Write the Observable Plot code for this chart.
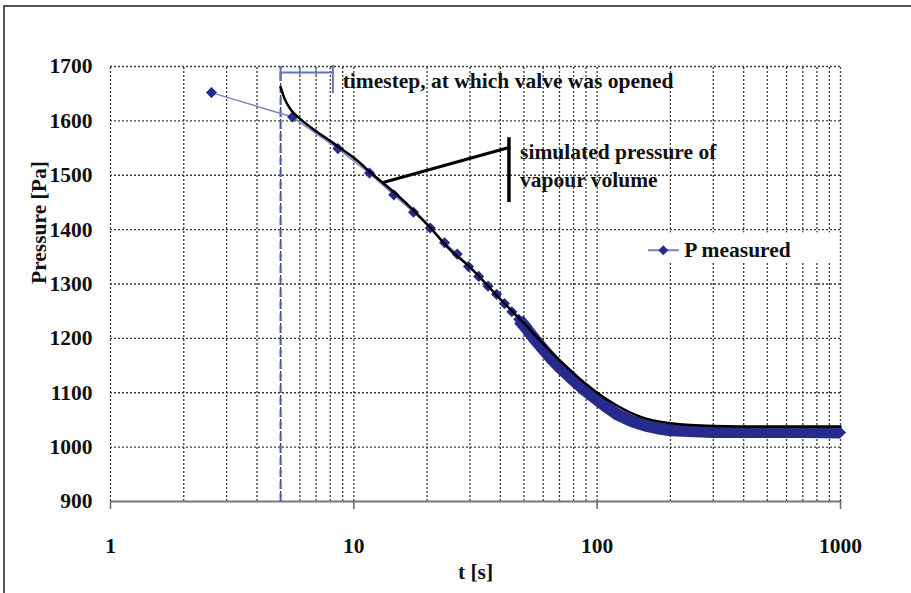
<!DOCTYPE html>
<html>
<head>
<meta charset="utf-8">
<script src="https://cdn.jsdelivr.net/npm/d3@7"></script>
<script src="https://cdn.jsdelivr.net/npm/@observablehq/plot@0.6"></script>
<style>
  html, body { margin: 0; padding: 0; background: #fff; width: 911px; height: 593px; overflow: hidden; }
  #wrap { position: relative; width: 911px; height: 593px; }
  #frame { position: absolute; left: 3px; top: 5px; width: 920px; height: 600px;
           border-top: 2px solid #555; border-left: 2px solid #555; pointer-events: none; }
</style>
</head>
<body>
<div id="wrap"><div id="frame"></div></div>
<script>
// ---- data ----
const xTicks = [1, 10, 100, 1000];
const yTicks = [900, 1000, 1100, 1200, 1300, 1400, 1500, 1600, 1700];
const xGrid = [1,2,3,4,5,6,7,8,9,10,20,30,40,50,60,70,80,90,100,200,300,400,500,600,700,800,900,1000];
const yGrid = [1000, 1100, 1200, 1300, 1400, 1500, 1600, 1700];

// P measured: individually visible markers
const measuredT = [2.6, 5.6, 8.6, 11.6, 14.6, 17.6, 20.6, 23.6, 26.6, 29.6, 32.6, 35.6, 38.6, 41.6, 44.6, 47.6];
const measuredP = [1652, 1607, 1549, 1504, 1464, 1432, 1403, 1376, 1355, 1332, 1314, 1296, 1281, 1264, 1249, 1235];
// P measured: densely packed markers (read along the band)
const denseT = [47.6, 50.6, 55, 60, 65, 70, 80, 90, 100, 110, 120, 140, 160, 180, 200, 250, 300, 400, 500, 700, 1000];
const denseP = [1235, 1221, 1200, 1180, 1162, 1147, 1123, 1103, 1087, 1073, 1061, 1047, 1039, 1034, 1031, 1029, 1028, 1028, 1028, 1028, 1027];

// simulated pressure of vapour volume
const simT = [5.0, 5.2, 5.5, 6, 7, 8, 9, 10, 12, 14, 17, 20, 25, 30, 40, 50, 60, 70, 80, 90, 100, 120, 150, 200, 300, 500, 1000];
const simP = [1662, 1640, 1621, 1604, 1581, 1563, 1547, 1532, 1501, 1476, 1442, 1410, 1362, 1331, 1272, 1228, 1190, 1160, 1136, 1116, 1100, 1077, 1056, 1044, 1039, 1038, 1038];

const valveT = 5;
const seriesName = "P measured";
const xLabel = "t [s]";
const yLabel = "Pressure [Pa]";
const noteValve = "timestep, at which valve was opened";
const noteSim = "simulated pressure of\nvapour volume";

// tables
const measured = measuredT.map((t, i) => ({t, p: measuredP[i]}));
const dense = denseT.map((t, i) => ({t, p: denseP[i]}));
const allMeasured = measured.concat(dense.filter(d => d.t > 47.6));
const sim = simT.map((t, i) => ({t, p: simP[i]}));

const navy = "#262b8c";
const lightBlue = "#7a80c8";
const gridStyle = {stroke: "#3a3a3a", strokeWidth: 1.3, strokeDasharray: "2,2"};

const chart = Plot.plot({
  width: 911,
  height: 593,
  marginLeft: 110,
  marginRight: 71,
  marginTop: 66,
  marginBottom: 92,
  x: {type: "log", domain: [1, 1000]},
  y: {domain: [900, 1700]},
  style: {
    fontFamily: "'Liberation Serif', 'Times New Roman', serif",
    fontWeight: "bold",
    fontSize: "21.5px",
    background: "transparent",
    color: "#111"
  },
  marks: [
    // grid
    Plot.ruleX(xGrid, {y1: 900, y2: 1700, ...gridStyle}),
    Plot.ruleY(yGrid, {...gridStyle}),
    Plot.ruleY([900], {stroke: "#777", strokeWidth: 2}),
    // axes
    Plot.axisX({ticks: xTicks, tickSize: 8, tickPadding: 28, tickFormat: d => String(d), stroke: "#666", strokeWidth: 1.5, label: null}),
    Plot.axisY({ticks: yTicks, tickSize: 0, tickPadding: 18, tickFormat: d => String(d), label: null}),
    Plot.text([xLabel], {text: d => d, frameAnchor: "bottom", dy: 77}),
    Plot.text([yLabel], {text: d => d, frameAnchor: "left", rotate: -90, dx: -71}),
    // legend box
    Plot.rect([{x1: 149, x2: 963, y1: 1338, y2: 1394}], {x1: "x1", x2: "x2", y1: "y1", y2: "y2", fill: "white"}),
    Plot.line([{t: 163, p: 1362}, {t: 215, p: 1362}], {x: "t", y: "p", stroke: lightBlue, strokeWidth: 2}),
    Plot.dot([{t: 187, p: 1362}], {x: "t", y: "p", symbol: "diamond2", r: 4.5, fill: navy}),
    Plot.text([seriesName], {x: 228, y: 1362, text: d => d, textAnchor: "start"}),
    // valve line
    Plot.ruleX([valveT], {y1: 900, y2: 1700, stroke: "#4d58b2", strokeWidth: 2, strokeDasharray: "8,4"}),
    // measured
    Plot.line(dense, {x: "t", y: "p", stroke: navy, strokeWidth: 12, strokeLinecap: "butt", strokeLinejoin: "round"}),
    Plot.line(measured, {x: "t", y: "p", stroke: lightBlue, strokeWidth: 1.5}),
    Plot.dot(allMeasured, {x: "t", y: "p", symbol: "diamond2", r: 5, fill: navy}),
    // simulated
    Plot.line(sim, {x: "t", y: "p", stroke: "#000", strokeWidth: 2.5, curve: "monotone-x"}),
    // bracket annotation
    Plot.line([{t: 5, p: 1689}, {t: 8.2, p: 1689}], {x: "t", y: "p", stroke: "#6b70c0", strokeWidth: 2}),
    Plot.ruleX([5], {y1: 1674, y2: 1700, stroke: "#6b70c0", strokeWidth: 2}),
    Plot.ruleX([6, 7], {y1: 1682, y2: 1697, stroke: "#6b70c0", strokeWidth: 1.5}),
    Plot.ruleX([8.2], {y1: 1650, y2: 1702, stroke: "#6b70c0", strokeWidth: 2}),
    Plot.text([noteValve], {x: 9.0, y: 1674, text: d => d, textAnchor: "start"}),
    // simulated annotation
    Plot.line([{t: 13.3, p: 1487}, {t: 43.4, p: 1551}], {x: "t", y: "p", stroke: "#000", strokeWidth: 3}),
    Plot.ruleX([43.4], {y1: 1450, y2: 1569, stroke: "#000", strokeWidth: 3.5}),
    Plot.text([noteSim], {x: 48.2, y: 1521, text: d => d, textAnchor: "start", lineHeight: 1.33})
  ]
});
document.getElementById("wrap").appendChild(chart);
chart.style.position = "absolute";
chart.style.left = "0";
chart.style.top = "0";
</script>
</body>
</html>
